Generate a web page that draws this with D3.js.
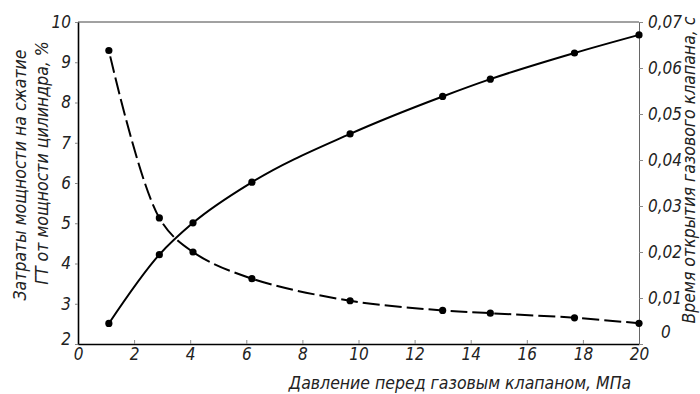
<!DOCTYPE html>
<html lang="ru">
  <head>
    <meta charset="UTF-8" />
    <title>Давление перед газовым клапаном</title>
    <script src="https://d3js.org/d3.v7.min.js"></script>
    <style>
      body {
        margin: 0;
        background: #fff;
      }
      svg text {
        font-family: "DejaVu Sans Condensed", "DejaVu Sans", sans-serif;
        font-style: italic;
        fill: #222;
      }
      .tick text {
        font-size: 17px;
      }
      .title {
        font-size: 17.5px;
      }
    </style>
  </head>
  <body>
    <div id="chart"></div>
    <script>
      // давление перед клапаном, МПа
      const pressure = [1.1, 2.9, 4.1, 6.2, 9.7, 13.0, 14.7, 17.7, 20.0];
      // затраты мощности на сжатие, % (левая ось, сплошная линия)
      const powerShare = [2.51, 4.22, 5.01, 6.02, 7.22, 8.15, 8.58, 9.23, 9.68];
      // время открытия клапана, с (правая ось, штриховая линия)
      const openTime = [0.0638, 0.0274, 0.02, 0.0142, 0.0094, 0.0073, 0.0067, 0.0057, 0.0045];

      const xTicks = d3.range(0, 21, 2);
      const leftTicks = d3.range(2, 11, 1);
      const rightTicks = [0, 0.01, 0.02, 0.03, 0.04, 0.05, 0.06, 0.07];

      const W = 700,
        H = 394;
      const margin = { top: 22, right: 61, bottom: 50, left: 78 };
      const width = W - margin.left - margin.right,
        height = H - margin.top - margin.bottom;

      const svg = d3
        .select("#chart")
        .append("svg")
        .attr("width", W)
        .attr("height", H);

      const g = svg
        .append("g")
        .attr("transform", `translate(${margin.left},${margin.top})`);

      const x = d3.scaleLinear().domain([0, 20]).range([0, width]);
      const yL = d3.scaleLinear().domain([2, 10]).range([height, 0]);
      const yR = d3.scaleLinear().domain([0, 0.07]).range([height, 0]);

      const solid = pressure.map((p, i) => ({ x: p, y: powerShare[i] }));
      const dashed = pressure.map((p, i) => ({ x: p, y: openTime[i] }));

      // рамка сверху
      g.append("line")
        .attr("x1", 0)
        .attr("x2", width)
        .attr("y1", 0)
        .attr("y2", 0)
        .attr("stroke", "#444")
        .attr("stroke-width", 1);

      // ось X
      const xAxis = g
        .append("g")
        .attr("transform", `translate(0,${height})`)
        .call(
          d3
            .axisBottom(x)
            .tickValues(xTicks)
            .tickSizeInner(-4)
            .tickSizeOuter(0)
            .tickPadding(4)
            .tickFormat(d3.format("d"))
        );
      xAxis.select(".domain").attr("stroke", "#000").attr("stroke-width", 1.6);
      xAxis.selectAll(".tick line").attr("stroke", "#888");

      // левая ось
      const leftAxis = g.append("g");
      leftAxis.call(
        d3
          .axisLeft(yL)
          .tickValues(leftTicks)
          .tickSizeInner(3)
          .tickSizeOuter(0)
          .tickPadding(4)
          .tickFormat(d3.format("d"))
      );
      leftAxis.select(".domain").attr("stroke", "#000").attr("stroke-width", 1.6);
      leftAxis.selectAll(".tick line").attr("stroke", "#888");
      leftAxis
        .selectAll(".tick text")
        .filter((d) => d === 2)
        .attr("y", -5);

      // правая ось
      const rightAxis = g
        .append("g")
        .attr("transform", `translate(${width},0)`)
        .call(
          d3
            .axisRight(yR)
            .tickValues(rightTicks)
            .tickSizeInner(4)
            .tickSizeOuter(0)
            .tickPadding(5)
            .tickFormat((d) => (d === 0 ? "0" : d.toFixed(2).replace(".", ",")))
        );
      rightAxis.select(".domain").attr("stroke", "#666").attr("stroke-width", 1);
      rightAxis.selectAll(".tick line").attr("stroke", "#888");
      rightAxis
        .selectAll(".tick text")
        .filter((d) => d === 0)
        .attr("x", 22)
        .attr("y", -12);

      // кривые
      const lineL = d3
        .line()
        .x((d) => x(d.x))
        .y((d) => yL(d.y))
        .curve(d3.curveMonotoneX);
      const lineR = d3
        .line()
        .x((d) => x(d.x))
        .y((d) => yR(d.y))
        .curve(d3.curveCatmullRom.alpha(0.5));

      g.append("path")
        .datum(solid)
        .attr("fill", "none")
        .attr("stroke", "#000")
        .attr("stroke-width", 2)
        .attr("d", lineL);

      g.append("path")
        .datum(dashed)
        .attr("fill", "none")
        .attr("stroke", "#000")
        .attr("stroke-width", 2)
        .attr("stroke-dasharray", "17,5")
        .attr("stroke-dashoffset", -6)
        .attr("d", lineR);

      g.selectAll(".pt-l")
        .data(solid)
        .enter()
        .append("circle")
        .attr("cx", (d) => x(d.x))
        .attr("cy", (d) => yL(d.y))
        .attr("r", 3.6)
        .attr("fill", "#000");

      g.selectAll(".pt-r")
        .data(dashed)
        .enter()
        .append("circle")
        .attr("cx", (d) => x(d.x))
        .attr("cy", (d) => yR(d.y))
        .attr("r", 3.6)
        .attr("fill", "#000");

      // подписи осей
      svg
        .append("text")
        .attr("class", "title")
        .attr("x", 460)
        .attr("y", 389)
        .attr("text-anchor", "middle")
        .text("Давление перед газовым клапаном, МПа");

      svg
        .append("text")
        .attr("class", "title")
        .attr("transform", "translate(26,175) rotate(-90)")
        .attr("text-anchor", "middle")
        .text("Затраты мощности на сжатие");

      svg
        .append("text")
        .attr("class", "title")
        .attr("transform", "translate(48,163) rotate(-90)")
        .attr("text-anchor", "middle")
        .text("ГТ от мощности цилиндра, %");

      svg
        .append("text")
        .attr("class", "title")
        .attr("transform", "translate(695,170) rotate(-90)")
        .attr("text-anchor", "middle")
        .text("Время открытия газового клапана, с");
    </script>
  </body>
</html>
